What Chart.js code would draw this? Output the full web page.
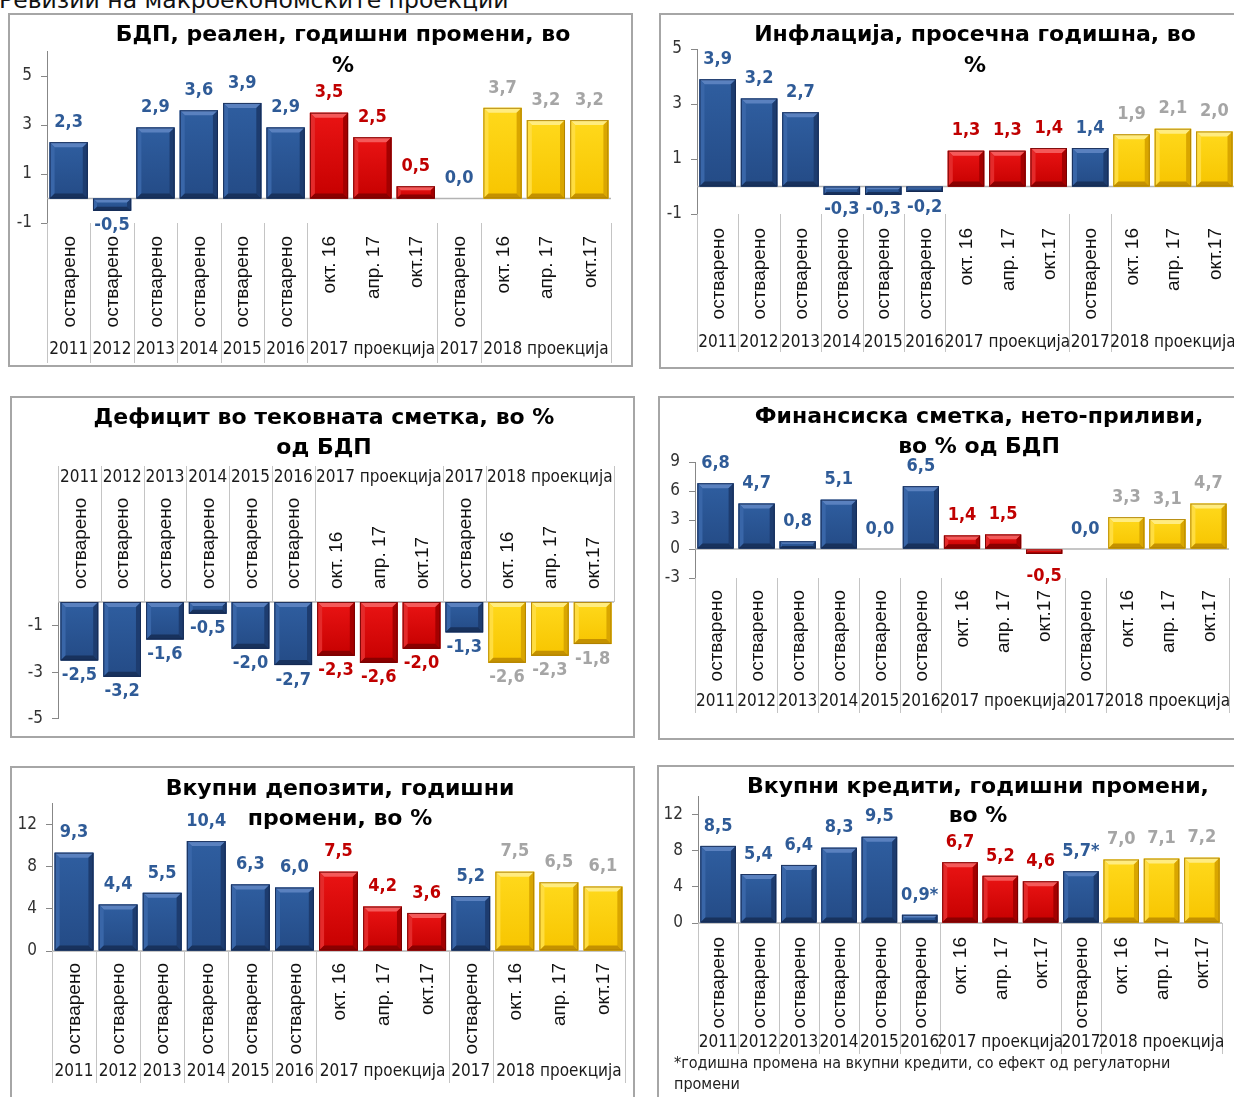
<!DOCTYPE html>
<html lang="mk">
<head>
<meta charset="utf-8">
<title>Ревизии на макроекономските проекции</title>
<script src="https://cdn.jsdelivr.net/npm/chart.js@4.4.1/dist/chart.umd.min.js"></script>
<style>
  html, body { margin: 0; padding: 0; background: #fff; }
  body { width: 1234px; height: 1097px; overflow: hidden; position: relative; }
  #heading { position: absolute; left: -1px; top: -12px; margin: 0; font: 400 23.5px "DejaVu Sans", sans-serif;
             line-height: 24px; color: #111; white-space: nowrap; }
  .frame { position: absolute; box-sizing: border-box; border: 2px solid #a6a6a6; pointer-events: none; }
  canvas { position: absolute; }
</style>
</head>
<body>
<h1 id="heading">Ревизии на макроекономските проекции</h1>
<script>
// ---- categories shared by every panel ----
const categoryLabels = ['остварено', 'остварено', 'остварено', 'остварено', 'остварено', 'остварено',
                        'окт. 16', 'апр. 17', 'окт.17', 'остварено', 'окт. 16', 'апр. 17', 'окт.17'];
const groupLabels = ['2011', '2012', '2013', '2014', '2015', '2016', '2017 проекција', '2017', '2018 проекција'];
const groupSpans = [1, 1, 1, 1, 1, 1, 3, 1, 3];
const barKinds = ['actual', 'actual', 'actual', 'actual', 'actual', 'actual',
                  'proj2017', 'proj2017', 'proj2017', 'actual', 'proj2018', 'proj2018', 'proj2018'];

// ---- series ----
const gdpTitle = ['БДП, реален, годишни промени, во', '%'];
const gdpValues = [2.3, -0.5, 2.9, 3.6, 3.9, 2.9, 3.5, 2.5, 0.5, 0.0, 3.7, 3.2, 3.2];
const gdpTicks = [-1, 1, 3, 5];

const inflationTitle = ['Инфлација, просечна годишна, во', '%'];
const inflationValues = [3.9, 3.2, 2.7, -0.3, -0.3, -0.2, 1.3, 1.3, 1.4, 1.4, 1.9, 2.1, 2.0];
const inflationTicks = [-1, 1, 3, 5];

const currentAccountTitle = ['Дефицит во тековната сметка, во %', 'од БДП'];
const currentAccountValues = [-2.5, -3.2, -1.6, -0.5, -2.0, -2.7, -2.3, -2.6, -2.0, -1.3, -2.6, -2.3, -1.8];
const currentAccountTicks = [-5, -3, -1];

const financialAccountTitle = ['Финансиска сметка, нето-приливи,', 'во % од БДП'];
const financialAccountValues = [6.8, 4.7, 0.8, 5.1, 0.0, 6.5, 1.4, 1.5, -0.5, 0.0, 3.3, 3.1, 4.7];
const financialAccountTicks = [-3, 0, 3, 6, 9];

const depositsTitle = ['Вкупни депозити, годишни', 'промени, во %'];
const depositsValues = [9.3, 4.4, 5.5, 10.4, 6.3, 6.0, 7.5, 4.2, 3.6, 5.2, 7.5, 6.5, 6.1];
const depositsTicks = [0, 4, 8, 12];

const creditsTitle = ['Вкупни кредити, годишни промени,', 'во %'];
const creditsValues = [8.5, 5.4, 6.4, 8.3, 9.5, 0.9, 6.7, 5.2, 4.6, 5.7, 7.0, 7.1, 7.2];
const creditsMarks = ['', '', '', '', '', '*', '', '', '', '*', '', '', ''];
const creditsTicks = [0, 4, 8, 12];
const creditsNote = ['*годишна промена на вкупни кредити, со ефект од регулаторни', 'промени'];

// ---- styling ----
const COND = '"DejaVu Sans Condensed", "DejaVu Sans", sans-serif';
const SANS = '"Liberation Sans", Arial, sans-serif';

const palettes = {
  actual:   { label: '#2f5b97', faceTop: '#2f5ea0', faceBottom: '#244b86', top: '#5a81bf', left: '#3966a8',
              right: '#1d3c6f', bottom: '#18325d', edge: 'rgba(20,40,80,0.85)' },
  proj2017: { label: '#c00000', faceTop: '#ea1414', faceBottom: '#c60000', top: '#f45a5a', left: '#e42a2a',
              right: '#a40000', bottom: '#8a0000', edge: 'rgba(110,0,0,0.85)' },
  proj2018: { label: '#a5a5a5', faceTop: '#ffd91c', faceBottom: '#f7c500', top: '#ffec80', left: '#ffdd40',
              right: '#d9a600', bottom: '#c49100', edge: 'rgba(170,125,0,0.85)' }
};

// ---- panel placement (page coordinates) ----
const panels = [
  { title: gdpTitle, values: gdpValues, ticks: gdpTicks, min: -1, max: 6,
    box: { x: 8, y: 13, w: 625, h: 354 }, plot: { l: 47, r: 611, t: 51.5, b: 223 },
    titleX: 343, titleY: [35, 66],
    cat: { side: 'bottom', from: 223, to: 363, yearY: 350, labelEdge: 236 } },
  { title: inflationTitle, values: inflationValues, ticks: inflationTicks, min: -1, max: 5,
    box: { x: 659, y: 13, w: 600, h: 356 }, plot: { l: 697, r: 1235, t: 49, b: 214 },
    titleX: 975, titleY: [35, 66],
    cat: { side: 'bottom', from: 214, to: 352, yearY: 343, labelEdge: 228 } },
  { title: currentAccountTitle, values: currentAccountValues, ticks: currentAccountTicks, min: -5, max: 0,
    box: { x: 10, y: 396, w: 625, h: 342 }, plot: { l: 58, r: 614, t: 602, b: 721 },
    titleX: 324, titleY: [418, 448],
    cat: { side: 'top', from: 466, to: 602, yearY: 478, labelEdge: 589 } },
  { title: financialAccountTitle, values: financialAccountValues, ticks: financialAccountTicks, min: -3, max: 9,
    box: { x: 658, y: 396, w: 600, h: 344 }, plot: { l: 695, r: 1229, t: 462, b: 578 },
    titleX: 979, titleY: [417, 447], negGap: 22,
    cat: { side: 'bottom', from: 578, to: 713, yearY: 702, labelEdge: 590 } },
  { title: depositsTitle, values: depositsValues, ticks: depositsTicks, min: 0, max: 14,
    box: { x: 10, y: 766, w: 625, h: 360 }, plot: { l: 52, r: 625, t: 803, b: 951 },
    titleX: 340, titleY: [789, 819],
    cat: { side: 'bottom', from: 951, to: 1083, yearY: 1072, labelEdge: 963 } },
  { title: creditsTitle, values: creditsValues, marks: creditsMarks, ticks: creditsTicks, min: 0, max: 14,
    box: { x: 657, y: 765, w: 600, h: 360 }, plot: { l: 698, r: 1222, t: 796, b: 923 },
    titleX: 978, titleY: [787, 816],
    note: creditsNote, noteX: 674, noteY: [1064, 1085],
    cat: { side: 'bottom', from: 923, to: 1054, yearY: 1043, labelEdge: 937 } }
];

function fillPoly(ctx, pts, color) {
  ctx.beginPath();
  ctx.moveTo(pts[0][0], pts[0][1]);
  for (let i = 1; i < pts.length; i++) ctx.lineTo(pts[i][0], pts[i][1]);
  ctx.closePath();
  ctx.fillStyle = color;
  ctx.fill();
}

// Bevelled bar face painted over each bar element Chart.js laid out
function paintBevel(ctx, el, pal) {
  const { x, y, base, width } = el.getProps(['x', 'y', 'base', 'width'], true);
  const l = x - width / 2, r = x + width / 2;
  const t = Math.min(y, base), b = Math.max(y, base);
  const h = b - t;
  if (h < 0.5) return;
  const bv = Math.min(5, h / 3, width / 4);
  const g = ctx.createLinearGradient(0, t, 0, b);
  g.addColorStop(0, pal.faceTop);
  g.addColorStop(1, pal.faceBottom);
  ctx.fillStyle = g;
  ctx.fillRect(l, t, width, h);
  fillPoly(ctx, [[l, t], [r, t], [r - bv, t + bv], [l + bv, t + bv]], pal.top);
  fillPoly(ctx, [[l, t], [l + bv, t + bv], [l + bv, b - bv], [l, b]], pal.left);
  fillPoly(ctx, [[r, t], [r, b], [r - bv, b - bv], [r - bv, t + bv]], pal.right);
  fillPoly(ctx, [[l, b], [r, b], [r - bv, b - bv], [l + bv, b - bv]], pal.bottom);
  ctx.strokeStyle = pal.edge;
  ctx.lineWidth = 1;
  ctx.strokeRect(l + 0.5, t + 0.5, width - 1, h - 1);
}

function formatValue(v) {
  return v.toFixed(1).replace('.', ',');
}

const panelDecor = {
  id: 'panelDecor',
  beforeDatasetsDraw(chart) {
    const { ctx, chartArea } = chart;
    const y0 = chart.scales.y.getPixelForValue(0);
    ctx.save();
    ctx.strokeStyle = '#b3b3b3';
    ctx.lineWidth = 1.5;
    ctx.beginPath();
    ctx.moveTo(chartArea.left, y0);
    ctx.lineTo(chartArea.right, y0);
    ctx.stroke();
    ctx.restore();
  },
  afterDatasetsDraw(chart) {
    const cfg = chart.options.plugins.panelDecor;
    const { ctx } = chart;
    const meta = chart.getDatasetMeta(0);
    const values = chart.data.datasets[0].data;
    ctx.save();
    meta.data.forEach((el, i) => paintBevel(ctx, el, palettes[barKinds[i]]));
    // value labels
    ctx.font = 'bold 18px ' + COND;
    ctx.textAlign = 'center';
    ctx.textBaseline = 'middle';
    meta.data.forEach((el, i) => {
      const v = values[i];
      const { x, y } = el.getProps(['x', 'y'], true);
      const text = formatValue(v) + (cfg.marks ? cfg.marks[i] : '');
      ctx.fillStyle = palettes[barKinds[i]].label;
      const ly = v >= 0 ? y - 20 : y + (cfg.negGap || 15);
      ctx.fillText(text, x, ly);
    });
    ctx.restore();
  },
  afterDraw(chart) {
    const cfg = chart.options.plugins.panelDecor;
    const { ctx } = chart;
    const xs = chart.scales.x;
    const ox = cfg.box.x, oy = cfg.box.y;
    const cw = xs.getPixelForValue(1) - xs.getPixelForValue(0);
    const start = xs.getPixelForValue(0) - cw / 2;
    const cat = cfg.cat;
    ctx.save();

    // group separators
    const bounds = [0];
    groupSpans.forEach(s => bounds.push(bounds[bounds.length - 1] + s));
    ctx.strokeStyle = '#c4c4c4';
    ctx.lineWidth = 1;
    bounds.forEach(bd => {
      const x = Math.round(start + bd * cw) + 0.5;
      ctx.beginPath();
      ctx.moveTo(x, cat.from - oy);
      ctx.lineTo(x, cat.to - oy);
      ctx.stroke();
    });

    // group (year) labels
    ctx.fillStyle = '#1a1a1a';
    ctx.font = '17px ' + COND;
    ctx.textAlign = 'center';
    ctx.textBaseline = 'middle';
    groupLabels.forEach((g, j) => {
      const cx = start + (bounds[j] + bounds[j + 1]) / 2 * cw;
      ctx.fillText(g, cx, cat.yearY - oy);
    });

    // rotated category labels
    ctx.font = '19px ' + SANS;
    ctx.fillStyle = '#111';
    categoryLabels.forEach((c, i) => {
      ctx.save();
      ctx.translate(xs.getPixelForValue(i) + 1, cat.labelEdge - oy);
      ctx.rotate(-Math.PI / 2);
      ctx.textAlign = cat.side === 'bottom' ? 'right' : 'left';
      ctx.textBaseline = 'middle';
      ctx.fillText(c, 0, 0);
      ctx.restore();
    });

    // title
    ctx.fillStyle = '#000';
    ctx.font = 'bold 22px "DejaVu Sans", sans-serif';
    ctx.textAlign = 'center';
    ctx.textBaseline = 'middle';
    cfg.title.forEach((line, k) => ctx.fillText(line, cfg.titleX - ox, cfg.titleY[k] - oy));

    // footnote
    if (cfg.note) {
      ctx.font = '16px ' + COND;
      ctx.fillStyle = '#222';
      ctx.textAlign = 'left';
      cfg.note.forEach((line, k) => ctx.fillText(line, cfg.noteX - ox, cfg.noteY[k] - oy));
    }
    ctx.restore();
  }
};

panels.forEach(p => {
  const canvas = document.createElement('canvas');
  canvas.width = p.box.w;
  canvas.height = p.box.h;
  canvas.style.left = p.box.x + 'px';
  canvas.style.top = p.box.y + 'px';
  canvas.style.width = p.box.w + 'px';
  canvas.style.height = p.box.h + 'px';
  document.body.appendChild(canvas);

  const frame = document.createElement('div');
  frame.className = 'frame';
  Object.assign(frame.style, { left: p.box.x + 'px', top: p.box.y + 'px', width: p.box.w + 'px', height: p.box.h + 'px' });
  document.body.appendChild(frame);

  // the y axis takes the whole strip left of the plot so its labels are never clipped
  const axisWidth = p.plot.l - p.box.x;

  new Chart(canvas, {
    type: 'bar',
    data: {
      labels: categoryLabels,
      datasets: [{
        data: p.values,
        backgroundColor: c => palettes[barKinds[c.dataIndex]].faceBottom,
        borderWidth: 0,
        barPercentage: 0.88,
        categoryPercentage: 1
      }]
    },
    options: {
      responsive: false,
      animation: false,
      devicePixelRatio: 1,
      layout: {
        padding: {
          left: 0,
          right: p.box.x + p.box.w - p.plot.r,
          top: p.plot.t - p.box.y,
          bottom: p.box.y + p.box.h - p.plot.b
        }
      },
      plugins: {
        legend: { display: false },
        tooltip: { enabled: false },
        title: { display: false },
        panelDecor: p
      },
      scales: {
        x: { display: false, offset: true },
        y: {
          min: p.min,
          max: p.max,
          afterBuildTicks: s => { s.ticks = p.ticks.map(v => ({ value: v })); },
          afterFit: s => { s.width = axisWidth; },
          grid: { drawOnChartArea: false, drawTicks: true, tickLength: 6, color: '#878787' },
          border: { display: true, color: '#878787', width: 1 },
          ticks: {
            color: '#333',
            padding: 9,
            font: { family: COND, size: 17 },
            callback: v => String(v)
          }
        }
      }
    },
    plugins: [panelDecor]
  });
});
</script>
</body>
</html>
